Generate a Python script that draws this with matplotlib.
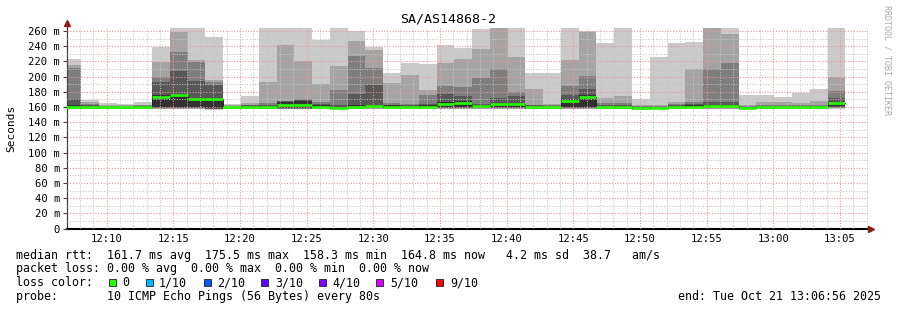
import numpy as np
import pandas as pd
import matplotlib
matplotlib.use("Agg")
import matplotlib.pyplot as plt
import matplotlib.dates as mdates
from matplotlib.patches import Rectangle
from matplotlib.lines import Line2D

# smokeping rounds: 10 pings every 80 s, values in ms (sorted, p1 lowest .. p10 highest)
start = "2025-10-21 12:06:44"
step_s = 80

p10 = [223, 169, 165, 164, 167, 239.5, 270, 270, 252, 164, 174.5, 270, 270, 270, 248, 270, 259.5, 239.5, 204.5, 218, 217, 241.5,
       237.5, 263, 270, 270, 205, 205, 270, 260, 244, 270, 170.5, 226, 244, 245.5, 270, 270, 176, 176, 173, 179, 184, 270]
p9 = [215.7, 167, 162.5, 162, 163, 219.6, 258, 222, 196, 162, 165, 193, 242, 220, 190, 214, 247, 235, 191.5, 202, 182, 218,
      223, 236, 266, 226, 183.5, 164, 222, 258.5, 172, 174, 163, 163, 167, 209.5, 266, 256, 163, 166.5, 166, 165, 168, 200]
p8 = [211, 164, 161.5, 161, 162, 200, 232, 219, 193, 161, 163, 165, 168.5, 170, 166, 182, 227, 211, 165, 164, 176, 188,
      186.5, 198, 210, 180, 163, 162, 187, 201, 165, 165, 161, 161, 164, 167, 210, 218, 161, 162.5, 163, 162.5, 163, 181.5]
p7 = [170.6, 162.5, 160.5, 160.5, 161.5, 192.5, 207.5, 194.5, 189.5, 160.5, 162, 163, 168, 169, 164, 163, 177, 189, 163, 162.5, 164, 176.5,
      174, 164, 172, 175, 162, 161, 176, 184, 162, 163, 160, 160, 162, 164, 166, 166, 160, 161.5, 161.5, 161.5, 161.5, 171.5]
p6 = [162, 161, 160, 160, 161, 175.5, 177.5, 172.5, 171.5, 160, 161, 161, 167, 168, 162, 160.5, 162, 163, 162, 161.5, 162, 166,
      167.5, 162.5, 165, 165.5, 160.5, 160, 170, 175.5, 160.5, 161.5, 159.5, 159.5, 161, 162, 163, 163, 159.5, 160.5, 160.5, 160.5, 160.5, 167]
p5 = [159, 159, 159, 159, 160, 160, 160, 160, 158.5, 159, 159.5, 159, 159, 159, 159.5, 158.5, 159, 160, 159.5, 159.5, 159.5, 160,
      160, 160, 160, 160, 159, 159, 160, 160, 159, 159, 158, 158.5, 159.5, 159.5, 160, 160, 158.3, 159, 159.5, 159.5, 159.5, 161]
p4 = [158.5, 158.5, 158.5, 158.5, 159, 159, 159, 159, 158, 158.5, 159, 158.5, 158.5, 158.5, 159, 158, 158.5, 159, 159, 159, 159, 159,
      159, 159, 159, 159, 158.5, 158.5, 159, 159, 158.5, 158.5, 157.5, 158, 159, 159, 159, 159, 158, 158.5, 159, 159, 159, 159.5]
p3 = [158, 158, 158, 158, 158.5, 158.5, 158.5, 158.5, 157.5, 158, 158.5, 158, 158, 158, 158.5, 157.5, 158, 158.5, 158.5, 158.5, 158.5, 158.5,
      158.5, 158.5, 158.5, 158.5, 158, 158, 158.5, 158.5, 158, 158, 157, 157.5, 158.5, 158.5, 158.5, 158.5, 157.5, 158, 158.5, 158.5, 158.5, 159]
p2 = [157.5, 157.5, 157.5, 157.5, 158, 158, 158, 158, 157, 157.5, 158, 157.5, 157.5, 157.5, 158, 157, 157.5, 158, 158, 158, 158, 158,
      158, 158, 158, 158, 157.5, 157.5, 158, 158, 157.5, 157.5, 156.5, 157, 158, 158, 158, 158, 157, 157.5, 158, 158, 158, 158.5]
p1 = [157, 157, 157, 157, 157.5, 157.5, 157.5, 157.5, 156.5, 157, 157.5, 157, 157, 157, 157.5, 156.5, 157, 157.5, 157.5, 157.5, 157.5, 157.5,
      157.5, 157.5, 157.5, 157.5, 157, 157, 157.5, 157.5, 157, 157, 156, 156.5, 157.5, 157.5, 157.5, 157.5, 156.5, 157, 157.5, 157.5, 157.5, 158]
median = [160, 160, 159.5, 159.5, 160.5, 173.5, 175.5, 170.5, 170, 159.5, 160.5, 160, 163, 163, 160.5, 159, 160, 161.5, 160.5, 160.5, 160.5, 164,
          165.5, 161, 163.5, 163.5, 159.5, 159.5, 168.5, 173.5, 159.5, 160.5, 158.5, 159, 160.5, 160.5, 161, 161, 158.3, 159.5, 160, 160, 160, 164.8]

yticks = list(range(0, 261, 20))
loss_labels = ["0", "1/10", "2/10", "3/10", "4/10", "5/10", "9/10"]
loss_colors = ["#26ff00", "#00b8ff", "#0059ff", "#5e00ff", "#7e00ff", "#dd00ff", "#ff0000"]
smoke_colors = ["#cacaca", "#a4a4a4", "#7e7e7e", "#585858", "#323232"]

stats_line = "median rtt:  161.7 ms avg  175.5 ms max  158.3 ms min  164.8 ms now   4.2 ms sd  38.7   am/s"
loss_line = "packet loss: 0.00 % avg  0.00 % max  0.00 % min  0.00 % now"
probe_line = "probe:       10 ICMP Echo Pings (56 Bytes) every 80s"
end_line = "end: Tue Oct 21 13:06:56 2025"

W, H = 897, 310
def fx(x):
    return x / W
def fy(y):
    return 1 - y / H

mono = "DejaVu Sans Mono"
plt.rcParams["font.family"] = mono

times = pd.date_range(start, periods=len(median), freq=f"{step_s}s")
x = mdates.date2num(times.to_pydatetime())
w = step_s / 86400.0

fig = plt.figure(figsize=(W / 100, H / 100), dpi=100)
ax = fig.add_axes([fx(67), fy(228.7), fx(868) - fx(67), fy(28.3) - fy(228.7)])

ups = [p10, p9, p8, p7, p6]
lows = [p1, p2, p3, p4, p5]
for lo, hi, c in zip(lows, ups, smoke_colors):
    lo = np.array(lo)
    hi = np.array(hi)
    ax.bar(x, hi - lo, width=w, bottom=lo, align="edge", color=c, linewidth=0, zorder=1)

med = np.array(median)
ax.step(np.append(x, x[-1] + w), np.append(med, med[-1]), where="post", color="#202020", lw=0.7, zorder=2)
ax.hlines(med, x, x + w, color=loss_colors[0], lw=1.9, zorder=3)

xmin = mdates.date2num(pd.Timestamp("2025-10-21 12:07:01").to_pydatetime())
xmax = mdates.date2num(pd.Timestamp("2025-10-21 13:07:06").to_pydatetime())
ax.set_xlim(xmin, xmax)
ax.set_ylim(0, 263.5)

ax.xaxis.set_major_locator(mdates.MinuteLocator(byminute=range(0, 60, 5)))
ax.xaxis.set_minor_locator(mdates.MinuteLocator())
ax.xaxis.set_major_formatter(mdates.DateFormatter("%H:%M"))
ax.set_yticks(yticks)
ax.set_yticklabels(["0" if v == 0 else f"{v} m" for v in yticks])
ax.set_yticks(range(0, 261, 10), minor=True)

ax.set_axisbelow(False)
ax.grid(which="minor", color="#c4c4c4", linestyle=(0, (1, 1.5)), lw=0.75)
ax.grid(which="major", color="#e89a9a", linestyle=(0, (1, 1.5)), lw=0.8)

ax.tick_params(axis="y", which="major", length=3, width=0.8, color="#404040", pad=2, labelsize=7.6)
ax.tick_params(axis="x", which="major", length=0, pad=4, labelsize=7.6)
ax.tick_params(which="minor", length=0)

for s in ["top", "right"]:
    ax.spines[s].set_visible(False)
ax.spines["left"].set_color("#404040")
ax.spines["left"].set_linewidth(0.9)
ax.spines["bottom"].set_color("black")
ax.spines["bottom"].set_linewidth(1.5)

# axis extensions and arrows
fig.add_artist(Line2D([fx(67), fx(67)], [fy(28.3), fy(24)], color="#404040", lw=0.9, transform=fig.transFigure))
fig.add_artist(Line2D([fx(868), fx(871)], [fy(228.7), fy(228.7)], color="black", lw=1.5, transform=fig.transFigure))
fig.add_artist(Line2D([fx(67)], [fy(23)], marker="^", markersize=4, color="#8b1a1a", transform=fig.transFigure))
fig.add_artist(Line2D([fx(871)], [fy(228.7)], marker=">", markersize=4, color="#8b1a1a", transform=fig.transFigure))

fig.text(fx(448), fy(19), "SA/AS14868-2", ha="center", va="center", fontsize=9.6)
fig.text(fx(11), fy(128), "Seconds", rotation=90, ha="center", va="center", fontsize=8)
fig.text(fx(887), fy(60), "RRDTOOL / TOBI OETIKER", rotation=270, ha="center", va="center", fontsize=6, color="#aaaaaa")

fs = 8.4
fig.text(fx(16), fy(255), stats_line, ha="left", va="center", fontsize=fs)
fig.text(fx(16), fy(268.5), loss_line, ha="left", va="center", fontsize=fs)
fig.text(fx(16), fy(282.5), "loss color:", ha="left", va="center", fontsize=fs)
fig.text(fx(16), fy(296.5), probe_line, ha="left", va="center", fontsize=fs)
fig.text(fx(881), fy(296.5), end_line, ha="right", va="center", fontsize=fs)

sw_x = [109, 146, 203.5, 261, 318.5, 376, 436]
tx_x = [122.5, 159, 217, 275, 332.5, 390, 450]
for sx, tx, lab, c in zip(sw_x, tx_x, loss_labels, loss_colors):
    fig.add_artist(Rectangle((fx(sx), fy(286)), fx(7), 7 / H, facecolor=c, edgecolor="#202020",
                             lw=0.6, transform=fig.transFigure))
    fig.text(fx(tx), fy(282.5), lab, ha="left", va="center", fontsize=fs)

fig.savefig("out.png", dpi=100, facecolor="white")
